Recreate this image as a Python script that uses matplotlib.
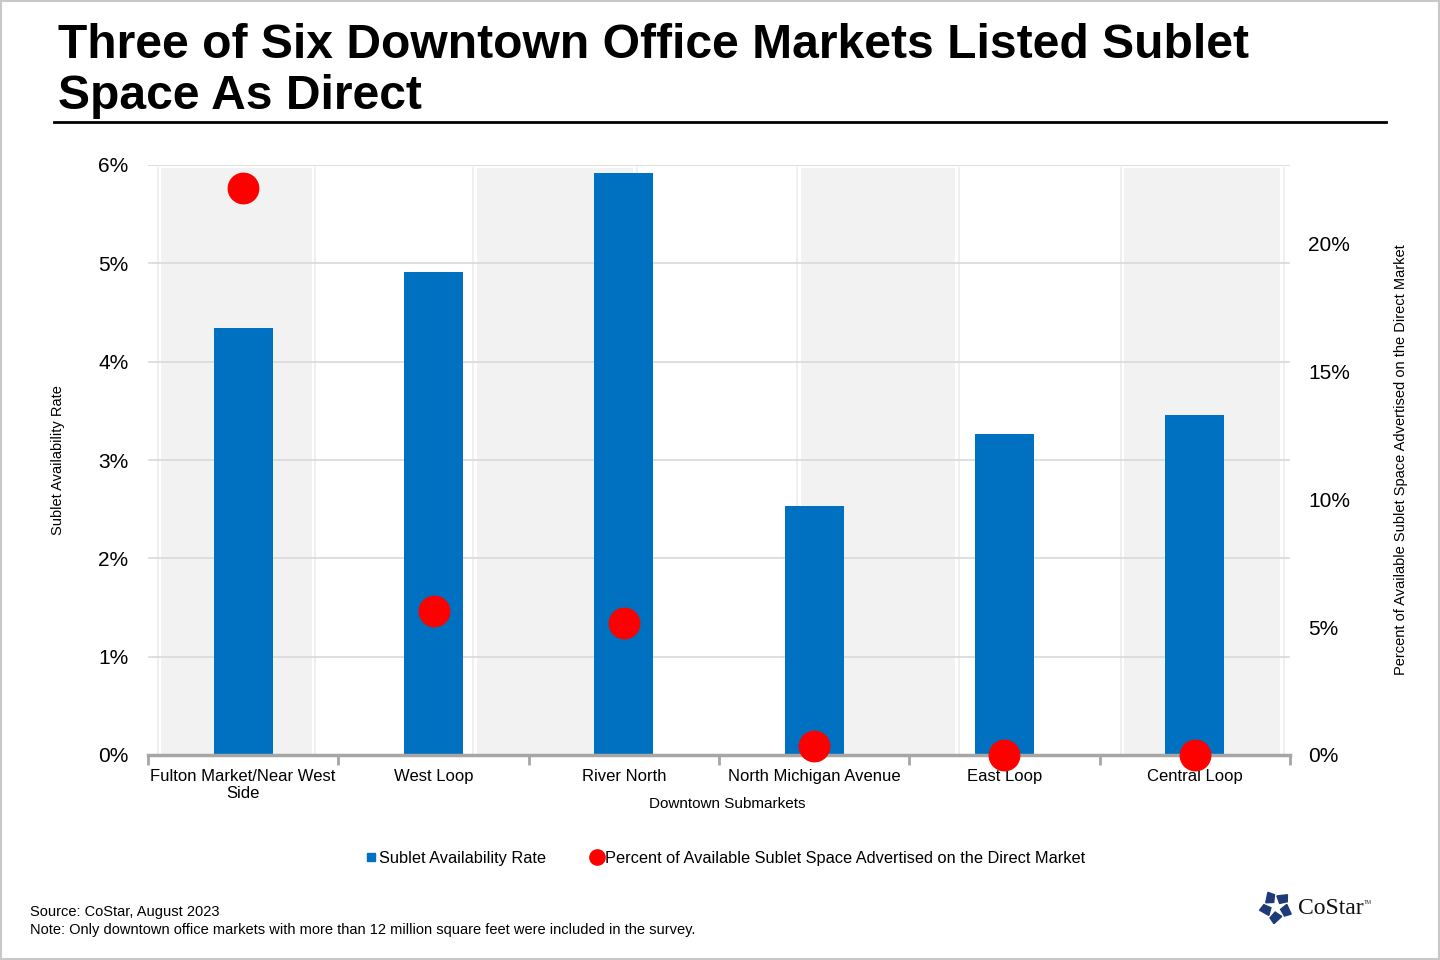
import numpy as np
import matplotlib.pyplot as plt
from matplotlib.patches import Rectangle, Polygon
from matplotlib.lines import Line2D

plt.rcParams['font.family'] = ['Liberation Sans', 'DejaVu Sans']

# Datos
submercados = ["Fulton Market/Near West\nSide", "West Loop", "River North",
               "North Michigan Avenue", "East Loop", "Central Loop"]
tasa_sublet = [4.34, 4.91, 5.92, 2.53, 3.26, 3.46]          # % eje izquierdo
pct_directo = [22.15, 5.63, 5.16, 0.35, 0.0, 0.0]           # % eje derecho
bandas = [(-0.43, 0.36), (1.23, 2.05), (2.93, 3.74), (4.63, 5.45)]

azul = "#0070c0"
rojo = "#ff0000"

fig = plt.figure(figsize=(14.4, 9.6), dpi=100)
fig.patches.append(Rectangle((0.001, 0.001), 0.998, 0.998, transform=fig.transFigure,
                             fill=False, edgecolor="#c8c8c8", linewidth=1.5))

ax = fig.add_axes([148 / 1440, 205 / 960, 1142 / 1440, 590 / 960])
x = np.arange(len(submercados))

# Bandas de fondo
for a, b in bandas:
    ax.axvspan(a, b, ymin=0, ymax=5.97 / 6, color="#f2f2f2", zorder=0, lw=0)
    for e in (a - 0.02, b + 0.02):
        ax.axvline(e, ymax=5.97 / 6, color="#ececec", lw=1.2, zorder=0)

ax.bar(x, tasa_sublet, width=0.31, color=azul, zorder=3)
ax.set_ylim(0, 6)
ax.set_xlim(-0.5, 5.5)
ax.set_yticks(range(7))
ax.set_yticklabels([f"{i}%" for i in range(7)], fontsize=15)
ax.yaxis.grid(True, color="#d9d9d9", lw=1.2, zorder=1)
ax.set_axisbelow(True)
for s in ["top", "right", "left"]:
    ax.spines[s].set_visible(False)
ax.spines["bottom"].set_color("#a6a6a6")
ax.spines["bottom"].set_linewidth(2.5)
ax.spines["bottom"].set_zorder(4)
ax.tick_params(axis="y", length=0, pad=14)
ax.set_xticks(np.arange(-0.5, 6.0, 1.0))
ax.set_xticklabels([])
ax.tick_params(axis="x", length=7, width=2, color="#a6a6a6", direction="out")
ax.set_xticks(x, minor=True)
ax.set_xticklabels(submercados, minor=True, fontsize=12)
ax.tick_params(axis="x", which="minor", length=5, width=1.5, color="#a6a6a6",
               direction="in", pad=10)
ax.set_xlabel("Downtown Submarkets", fontsize=11)
ax.xaxis.set_label_coords((727 - 148) / 1142, -(797 - 755) / 590)
ax.set_ylabel("Sublet Availability Rate", fontsize=10.5, labelpad=24)

ax2 = ax.twinx()
ax2.scatter(x, pct_directo, s=480, color=rojo, zorder=5, clip_on=False)
ax2.set_ylim(0, 23.05)
ax2.set_yticks([0, 5, 10, 15, 20])
ax2.set_yticklabels(["0%", "5%", "10%", "15%", "20%"], fontsize=15)
ax2.tick_params(axis="y", length=0, pad=13)
for s in ax2.spines.values():
    s.set_visible(False)
ax2.set_ylabel("Percent of Available Sublet Space Advertised on the Direct Market",
               fontsize=10.5, labelpad=32)

# Título
fig.text(58 / 1440, 1 - 58 / 960, "Three of Six Downtown Office Markets Listed Sublet",
         fontsize=34.6, fontweight="bold", va="baseline", ha="left")
fig.text(58 / 1440, 1 - 109 / 960, "Space As Direct",
         fontsize=34.6, fontweight="bold", va="baseline", ha="left")
fig.add_artist(Line2D([54 / 1440, 1386 / 1440], [1 - 122 / 960] * 2, color="black", lw=2))

# Leyenda
handles = [Line2D([], [], marker="s", color=azul, ls="", markersize=6),
           Line2D([], [], marker="o", color=rojo, ls="", markersize=11)]
fig.legend(handles, ["Sublet Availability Rate",
                     "Percent of Available Sublet Space Advertised on the Direct Market"],
           loc="center", bbox_to_anchor=(724 / 1440, 1 - 858 / 960), ncol=2, frameon=False,
           fontsize=11.8, handletextpad=0.0, columnspacing=2.6, handlelength=1.0)

# Fuente
fig.text(30 / 1440, 1 - 912 / 960, "Source: CoStar, August 2023", fontsize=10.5, va="center")
fig.text(30 / 1440, 1 - 930 / 960,
         "Note: Only downtown office markets with more than 12 million square feet were included in the survey.",
         fontsize=10.5, va="center")

# Logo CoStar
cx, cy, r = 1276, 907, 11
for k in range(5):
    ang = np.pi / 2 + k * 2 * np.pi / 5
    px, py = cx + r * np.cos(ang), cy + r * np.sin(ang)
    pts = []
    for d in (0.35, 1.6, 3.0, 4.45):
        pts.append(((px + 6 * np.cos(ang + d)) / 1440, 1 - (py + 6 * np.sin(ang + d)) / 960))
    fig.patches.append(Polygon(pts, closed=True, transform=fig.transFigure,
                               color="#1f3a78"))
fig.text(1298 / 1440, 1 - 908 / 960, "CoStar", fontsize=17, family="Liberation Serif",
         va="center", color="#111111")
fig.text(1364 / 1440, 1 - 903 / 960, "TM", fontsize=4, va="center", color="#333333")

fig.savefig("out.png", dpi=100)
